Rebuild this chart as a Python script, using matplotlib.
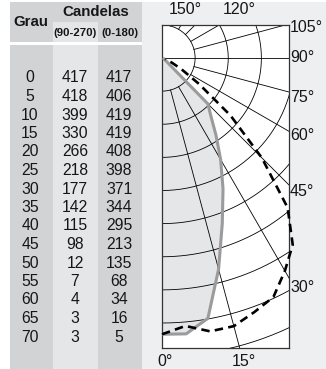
import numpy as np
import matplotlib
matplotlib.use("Agg")
import matplotlib.pyplot as plt
from matplotlib.patches import Rectangle

plt.rcParams['font.family'] = ['Liberation Sans', 'DejaVu Sans']

# dados da tabela
graus = [0, 5, 10, 15, 20, 25, 30, 35, 40, 45, 50, 55, 60, 65, 70]
cd_90_270 = [417, 418, 399, 330, 266, 218, 177, 142, 115, 98, 12, 7, 4, 3, 3]
cd_0_180 = [417, 406, 419, 419, 408, 398, 371, 344, 295, 213, 135, 68, 34, 16, 5]

circulos = [50, 100, 150, 200, 250, 300, 350, 400, 450]
raios = [15, 30, 45, 60, 75, 90, 105, 120, 135, 150, 165]
rot_topo = ['150°', '120°']
rot_dir = ['105°', '90°', '75°', '60°', '45°', '30°']
rot_baixo = ['0°', '15°']

W, H = 326, 369
fig = plt.figure(figsize=(W / 100, H / 100), dpi=100)
fig.patch.set_facecolor('#eeeff0')

# fundo em pixels para a tabela
bg = fig.add_axes([0, 0, 1, 1])
bg.set_xlim(0, W)
bg.set_ylim(H, 0)
bg.axis('off')

escuro = '#d2d3d5'
claro = '#e5e6e8'
txt = '#161616'
bg.add_patch(Rectangle((0, 0), 10, H, color='white', lw=0))
bg.add_patch(Rectangle((0, 0), W, 2, color='white', lw=0))
bg.add_patch(Rectangle((10, 2), 43, 40, color=escuro, lw=0))
bg.add_patch(Rectangle((53, 2), 89, 20, color=escuro, lw=0))
bg.add_patch(Rectangle((53, 22), 45, 20, color=claro, lw=0))
bg.add_patch(Rectangle((98, 22), 44, 20, color=escuro, lw=0))
bg.add_patch(Rectangle((10, 42), 132, 3, color='white', lw=0))
bg.add_patch(Rectangle((10, 45), 43, H - 45, color=escuro, lw=0))
bg.add_patch(Rectangle((53, 45), 45, H - 45, color=claro, lw=0))
bg.add_patch(Rectangle((98, 45), 44, H - 45, color=escuro, lw=0))

bg.text(31, 22, 'Grau', ha='center', va='center', fontsize=10.8, fontweight='bold', color=txt)
bg.text(96, 12.5, 'Candelas', ha='center', va='center', fontsize=10.8, fontweight='bold', color=txt)
bg.text(75, 33, '(90-270)', ha='center', va='center', fontsize=8.2, fontweight='bold', color=txt)
bg.text(119.5, 33, '(0-180)', ha='center', va='center', fontsize=8.2, fontweight='bold', color=txt)

for i, g in enumerate(graus):
    y = 78 + i * 18.5
    bg.text(30, y, str(g), ha='center', va='center', fontsize=11.3, color=txt)
    bg.text(75, y, str(cd_90_270[i]), ha='center', va='center', fontsize=11.3, color=txt)
    bg.text(119, y, str(cd_0_180[i]), ha='center', va='center', fontsize=11.3, color=txt)

# rótulos do diagrama
for t, x in zip(rot_topo, [185, 239]):
    bg.text(x, 9, t, ha='center', va='center', fontsize=11.5, color=txt)
for t, y in zip(rot_dir, [28, 57, 98, 135, 192, 288]):
    bg.text(290, y, t, ha='left', va='center', fontsize=11.5, color=txt)
for t, x in zip(rot_baixo, [165, 244]):
    bg.text(x, 361, t, ha='center', va='center', fontsize=11.5, color=txt)

# diagrama polar (cd -> cartesiano, 0° para baixo)
k = 0.6625  # px por cd
L, R, T, B = 162, 289, 25, 348
ax = fig.add_axes([L / W, (H - B) / H, (R - L) / W, (B - T) / H])
ax.set_xlim(0, (R - L) / k)
ax.set_ylim(-(B - 58) / k, (58 - T) / k)
ax.set_facecolor('white')
ax.set_xticks([])
ax.set_yticks([])
for s in ax.spines.values():
    s.set_color('#333333')
    s.set_linewidth(0.9)

th = np.radians(np.linspace(0, 180, 200))
for c in circulos:
    ax.plot(c * np.sin(th), -c * np.cos(th), color='black', lw=0.6)
for a in raios:
    r0 = 0 if a == 90 else 50
    t = np.radians(a)
    ax.plot([r0 * np.sin(t), 800 * np.sin(t)], [-r0 * np.cos(t), -800 * np.cos(t)],
            color='black', lw=0.6)

g = np.radians(graus)
x1 = np.array(cd_90_270) * np.sin(g)
y1 = -np.array(cd_90_270) * np.cos(g)
ax.fill(np.r_[0, x1, 0], np.r_[0, y1, 0], color='#dcdee0', alpha=0.75, lw=0, zorder=1)
ax.plot(x1, y1, color='#9b9b9b', lw=2.2, zorder=3, solid_capstyle='round',
        solid_joinstyle='round')

x2 = np.array(cd_0_180) * np.sin(g)
y2 = -np.array(cd_0_180) * np.cos(g)
ax.plot(x2, y2, color='black', lw=1.9, dashes=(3.2, 2), zorder=4, clip_on=False)

fig.savefig('out.png', dpi=100, facecolor=fig.get_facecolor())
